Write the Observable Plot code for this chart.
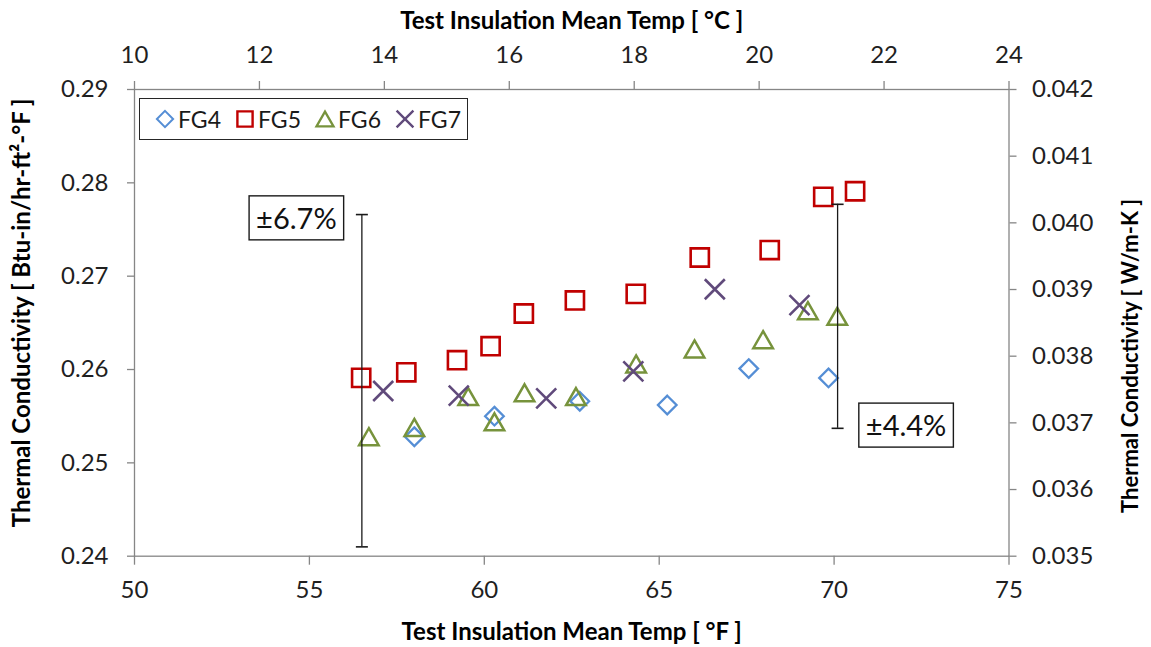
<!DOCTYPE html>
<html>
<head>
<meta charset="utf-8">
<script src="https://cdn.jsdelivr.net/npm/d3@7"></script>
<script src="https://cdn.jsdelivr.net/npm/@observablehq/plot@0.6"></script>
<style>
  html, body { margin: 0; padding: 0; background: #fff; }
  #wrap { position: relative; width: 1151px; height: 647px; font-family: Lato, "Open Sans", sans-serif; }
  #legend { position: absolute; left: 139px; top: 98px; width: 311px; height: 40px; border: 1.4px solid #262626; background: #fff;
            display: flex; align-items: center; padding-left: 16px; box-sizing: content-box; }
  .item { display: flex; align-items: center; flex: 0 0 80px; }
  .item svg { width: 18px; height: 18px; margin-right: 4px; overflow: visible; }
  .item span { font-size: 23px; color: #1a1a1a; line-height: 1; }
</style>
</head>
<body>
<div id="wrap"><div id="legend"></div></div>
<script>
// ---- data ----
const seriesNames = ["FG4", "FG5", "FG6", "FG7"];
const seriesColors = ["#558ED5", "#C00000", "#77933C", "#604A7B"];

const fg4Temp = [58.00, 60.29, 62.73, 65.23, 67.56, 69.84];
const fg4K    = [0.2528, 0.2550, 0.2566, 0.2562, 0.2601, 0.2591];

const fg5Temp = [56.48, 57.77, 59.22, 60.18, 61.13, 62.59, 64.33, 66.16, 68.16, 69.69, 70.60];
const fg5K    = [0.2591, 0.2597, 0.2610, 0.2625, 0.2660, 0.2674, 0.2681, 0.2720, 0.2728, 0.2785, 0.2791];

const fg6Temp = [56.70, 58.00, 59.54, 60.29, 61.15, 62.62, 64.34, 66.01, 67.97, 69.25, 70.09];
const fg6K    = [0.2528, 0.2538, 0.2571, 0.2544, 0.2575, 0.2571, 0.2606, 0.2622, 0.2632, 0.2663, 0.2657];

const fg7Temp = [57.11, 59.27, 61.77, 64.26, 66.59, 69.01];
const fg7K    = [0.2577, 0.2572, 0.2569, 0.2598, 0.2686, 0.2669];

const errTemp  = [56.5, 70.1];
const errLow   = [0.2410, 0.2537];
const errHigh  = [0.2766, 0.2777];
const errLabel = ["\u00b16.7%", "\u00b14.4%"];

const fTicks = [50, 55, 60, 65, 70, 75];
const cTicks = [10, 12, 14, 16, 18, 20, 22, 24];
const kTicks = [0.24, 0.25, 0.26, 0.27, 0.28, 0.29];
const wTicks = [0.035, 0.036, 0.037, 0.038, 0.039, 0.040, 0.041, 0.042];

const xTitleBottom = "Test Insulation Mean Temp [ \u00b0F ]";
const xTitleTop = "Test Insulation Mean Temp [ \u00b0C ]";
const yTitleLeft = "Thermal Conductivity [ Btu-in/hr-ft\u00b2-\u00b0F ]";
const yTitleRight = "Thermal Conductivity [ W/m-K ]";

// ---- secondary axis mappings (linear, same span as primary axes) ----
const xDom = [50, 75], cDom = [10, 24];
const yDom = [0.24, 0.29], wDom = [0.035, 0.042];
const c2f = c => xDom[0] + (c - cDom[0]) * (xDom[1] - xDom[0]) / (cDom[1] - cDom[0]);
const f2c = f => cDom[0] + (f - xDom[0]) * (cDom[1] - cDom[0]) / (xDom[1] - xDom[0]);
const w2k = w => yDom[0] + (w - wDom[0]) * (yDom[1] - yDom[0]) / (wDom[1] - wDom[0]);
const k2w = k => wDom[0] + (k - yDom[0]) * (wDom[1] - wDom[0]) / (yDom[1] - yDom[0]);

const rows = (t, k) => t.map((v, i) => ({t: v, k: k[i]}));
const errRows = errTemp.map((t, i) => ({t, lo: errLow[i], hi: errHigh[i], label: errLabel[i]}));

// ---- marker shapes ----
const rad = s => Math.sqrt(s / Math.PI);
const symSquare = {draw(c, s) { const r = rad(s); c.moveTo(-r, -r); c.lineTo(r, -r); c.lineTo(r, r); c.lineTo(-r, r); c.closePath(); }};
const symDiamond = {draw(c, s) { const r = rad(s); c.moveTo(0, -r); c.lineTo(r, 0); c.lineTo(0, r); c.lineTo(-r, 0); c.closePath(); }};
const symTriangle = {draw(c, s) { const r = rad(s); c.moveTo(0, -r); c.lineTo(1.15 * r, r); c.lineTo(-1.15 * r, r); c.closePath(); }};
const symTimes = {draw(c, s) { const r = rad(s); c.moveTo(-r, -r); c.lineTo(r, r); c.moveTo(r, -r); c.lineTo(-r, r); }};
const symCap = {draw(c, s) { const r = rad(s); c.moveTo(-r, 0); c.lineTo(r, 0); }};

const axisGray = "#868686";
const tickText = "#1f1f1f";
const fontFamily = "Lato, 'Open Sans', sans-serif";

const plot = Plot.plot({
  width: 1151,
  height: 647,
  marginLeft: 134,
  marginRight: 142.5,
  marginTop: 89,
  marginBottom: 91.3,
  style: {fontFamily, background: "#fff", overflow: "visible"},
  x: {domain: xDom},
  y: {domain: yDom},
  marks: [
    Plot.frame({stroke: axisGray, strokeWidth: 1.3}),
    Plot.axisX(fTicks, {anchor: "bottom", tickSize: 9, tickPadding: 16, fontSize: 24, stroke: axisGray, strokeWidth: 1.3, fill: tickText, label: null, tickFormat: d => String(d)}),
    Plot.axisX(cTicks.map(c2f), {anchor: "top", tickSize: 9, tickPadding: 18, fontSize: 24, stroke: axisGray, strokeWidth: 1.3, fill: tickText, label: null, tickFormat: d => String(Math.round(f2c(d)))}),
    Plot.axisY(kTicks, {anchor: "left", tickSize: 7, tickPadding: 19, fontSize: 24, stroke: axisGray, strokeWidth: 1.3, fill: tickText, label: null, tickFormat: d => d.toFixed(2)}),
    Plot.axisY(wTicks.map(w2k), {anchor: "right", tickSize: 7, tickPadding: 16, fontSize: 24, stroke: axisGray, strokeWidth: 1.3, fill: tickText, label: null, tickFormat: d => k2w(d).toFixed(3)}),

    Plot.text([xTitleBottom], {text: d => d, frameAnchor: "bottom", dy: 76, textAnchor: "middle", lineAnchor: "middle", fontSize: 24, fontWeight: "bold", fill: "#000"}),
    Plot.text([xTitleTop], {text: d => d, frameAnchor: "top", dy: -68, textAnchor: "middle", lineAnchor: "middle", fontSize: 24, fontWeight: "bold", fill: "#000"}),
    Plot.text([yTitleLeft], {text: d => d, frameAnchor: "left", dx: -112, dy: -10, rotate: -90, textAnchor: "middle", lineAnchor: "middle", fontSize: 24, fontWeight: "bold", fill: "#000"}),
    Plot.text([yTitleRight], {text: d => d, frameAnchor: "right", dx: 122, dy: 33, rotate: -90, textAnchor: "middle", lineAnchor: "middle", fontSize: 22, fontWeight: "bold", fill: "#000"}),

    Plot.dot(rows(fg4Temp, fg4K), {x: "t", y: "k", symbol: symDiamond, r: 9.3, fill: "none", stroke: seriesColors[0], strokeWidth: 2.3, strokeLinejoin: "miter"}),
    Plot.dot(rows(fg5Temp, fg5K), {x: "t", y: "k", symbol: symSquare, r: 9.1, fill: "none", stroke: seriesColors[1], strokeWidth: 2.6, strokeLinejoin: "miter"}),
    Plot.dot(rows(fg6Temp, fg6K), {x: "t", y: "k", symbol: symTriangle, r: 8.5, fill: "none", stroke: seriesColors[2], strokeWidth: 2.5, strokeLinejoin: "miter"}),
    Plot.dot(rows(fg7Temp, fg7K), {x: "t", y: "k", symbol: symTimes, r: 10, fill: "none", stroke: seriesColors[3], strokeWidth: 2.6}),

    Plot.ruleX(errRows, {x: "t", y1: "lo", y2: "hi", stroke: "#1a1a1a", strokeWidth: 1.3}),
    Plot.dot(errRows, {x: "t", y: "lo", symbol: symCap, r: 6, stroke: "#1a1a1a", strokeWidth: 1.6}),
    Plot.dot(errRows, {x: "t", y: "hi", symbol: symCap, r: 6, stroke: "#1a1a1a", strokeWidth: 1.6}),

    Plot.text(errRows.slice(0, 1), {x: "t", y: "hi", text: "label", dx: -65.5, dy: 5, textAnchor: "middle", lineAnchor: "middle", fontSize: 29, fill: "#111"}),
    Plot.text(errRows.slice(1, 2), {x: "t", y: "lo", text: "label", dx: 68.5, dy: -1.5, textAnchor: "middle", lineAnchor: "middle", fontSize: 29, fill: "#111"})
  ]
});

const wrap = document.getElementById("wrap");
wrap.insertBefore(plot, wrap.firstChild);

// boxes around the annotation labels
plot.querySelectorAll("text").forEach(t => {
  if (!errLabel.includes(t.textContent)) return;
  const b = t.getBBox();
  const r = document.createElementNS("http://www.w3.org/2000/svg", "rect");
  r.setAttribute("x", b.x - 7);
  r.setAttribute("y", b.y - 4);
  r.setAttribute("width", b.width + 14);
  r.setAttribute("height", b.height + 9);
  r.setAttribute("fill", "#fff");
  r.setAttribute("stroke", "#1a1a1a");
  r.setAttribute("stroke-width", 1.4);
  if (t.getAttribute("transform")) r.setAttribute("transform", t.getAttribute("transform"));
  t.parentNode.insertBefore(r, t);
});

// legend
const legendSyms = [symDiamond, symSquare, symTriangle, symTimes];
const legendR = [8.1, 7.6, 7.4, 8.4];
const legendSW = [2.0, 2.4, 2.3, 2.4];
const legend = document.getElementById("legend");
seriesNames.forEach((name, i) => {
  const item = document.createElement("div");
  item.className = "item";
  const svg = d3.create("svg").attr("viewBox", "-9 -9 18 18");
  svg.append("path")
    .attr("d", d3.symbol(legendSyms[i], Math.PI * legendR[i] * legendR[i])())
    .attr("fill", "none").attr("stroke", seriesColors[i]).attr("stroke-width", legendSW[i]).attr("stroke-linejoin", "miter");
  item.appendChild(svg.node());
  const s = document.createElement("span");
  s.textContent = name;
  item.appendChild(s);
  legend.appendChild(item);
});
</script>
</body>
</html>
